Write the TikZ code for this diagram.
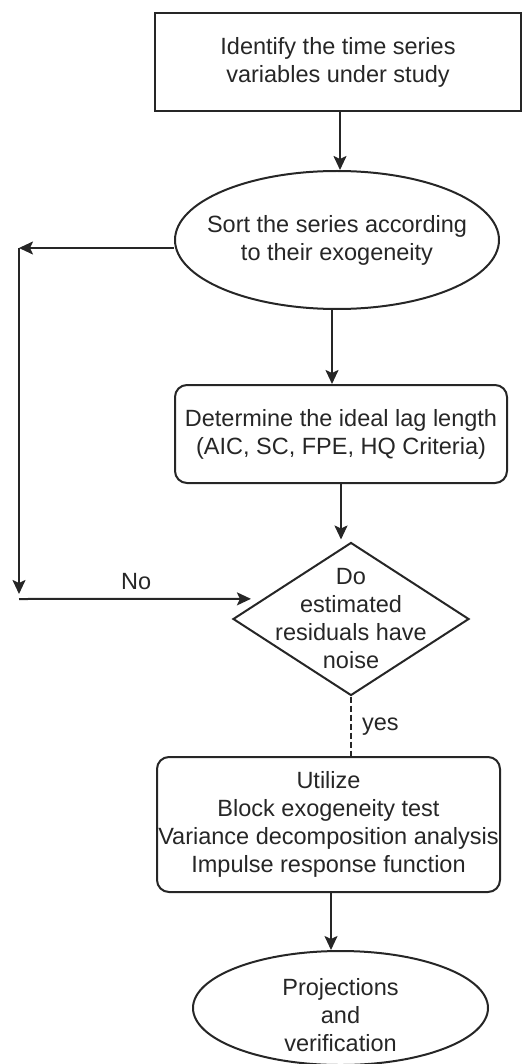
\documentclass[tikz,border=0pt]{standalone}
\usepackage{fontspec}
\setmainfont{Liberation Sans}
\usetikzlibrary{shapes.geometric,arrows.meta,calc}
\definecolor{ink}{HTML}{262626}
\definecolor{txt}{HTML}{262626}

\begin{document}
\begin{tikzpicture}[x=1pt,y=-1pt,
  lbl/.style={font=\fontsize{23.5}{28}\selectfont, text=txt, align=center, inner sep=0pt},
  boxshape/.style={draw=ink, line width=2pt, rectangle, inner sep=0pt},
  roundbox/.style={boxshape, rounded corners=12pt},
  oval/.style={draw=ink, line width=2pt, ellipse, inner sep=0pt},
  rhombus/.style={draw=ink, line width=2pt, diamond, inner sep=0pt},
  flow/.style={draw=ink, line width=2pt, -{Stealth[length=14pt,width=13pt,inset=3pt]}},
  dashflow/.style={draw=ink, line width=2pt, dash pattern=on 6pt off 3pt},
]
\useasboundingbox (0,0) rectangle (522,1064);

% shapes
\node[boxshape, minimum width=366pt, minimum height=98pt] (ident) at (338,62) {};
\node[lbl] (identT) at (ident.center) {Identify the time series\\variables under study};

\node[oval, minimum width=324pt, minimum height=138pt] (sort) at (337,240) {};
\node[lbl] (sortT) at (sort.center) {Sort the series according\\to their exogeneity};

\node[roundbox, minimum width=332pt, minimum height=98pt] (lag) at (341,434) {};
\node[lbl] (lagT) at (lag.center) {Determine the ideal lag length\\(AIC, SC, FPE, HQ Criteria)};

\node[rhombus, minimum width=236pt, minimum height=153pt] (noise) at (351,619) {};
\node[lbl] (noiseT) at (noise.center) {Do\\estimated\\residuals have\\noise};

\node[roundbox, minimum width=343pt, minimum height=135pt] (use) at (328.5,824.5) {};
\node[lbl] (useT) at (use.center) {Utilize\\Block exogeneity test\\Variance decomposition analysis\\Impulse response function};

\node[oval, minimum width=295pt, minimum height=114pt] (proj) at (340.5,1008) {};
\node[lbl, yshift=-7pt] (projT) at (proj.center) {Projections\\and\\verification};

% main flow
\draw[flow] ([xshift=2pt]ident.south) -- ([xshift=2pt]ident.south |- sort.north);
\draw[flow] ([xshift=-5pt]sort.south) -- ([xshift=-5pt]sort.south |- lag.north);
\draw[flow, shorten >=2pt] (lag.south) -- (lag.south |- noise.north);
\draw[dashflow] (noise.south) -- (noise.south |- use.north)
  node[lbl, midway, anchor=west, xshift=10pt] (yes) {yes};
\draw[flow] ([xshift=2.5pt]use.south) -- ([xshift=2.5pt]use.south |- proj.north);

% loop on the left
\coordinate (up) at (19,248);
\coordinate (down) at (19,599);
\draw[flow] (sort.west |- up) -- (up);
\draw[flow, shorten >=5pt] (up) -- (down);
\draw[flow, shorten >=12pt] (down) -- ($(noise.west)!0.26!(noise.north)$)
  node[lbl, pos=0.48, anchor=south, yshift=8pt] (no) {No};
\end{tikzpicture}
\end{document}
